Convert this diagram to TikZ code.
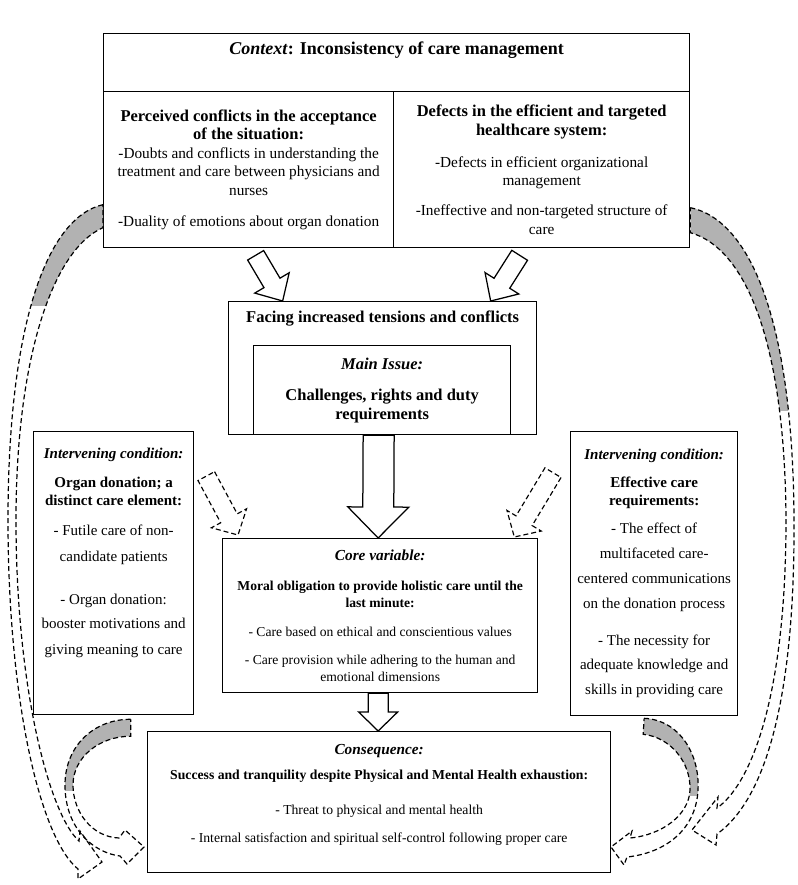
\documentclass[tikz,border=0pt]{standalone}
\usepackage{fontspec}
\setmainfont{Liberation Serif}
\usetikzlibrary{calc, positioning}

% hollow block arrow: [style]{from}{to}{half shaft}{half head}{head length}
\newcommand{\blockarrow}[6][]{%
  \coordinate (ba-h) at ($(#3)!#6!(#2)$);
  \draw[#1] ($(#2)!#4!90:(#3)$) -- ($(ba-h)!#4!-90:(#2)$)
    -- ($(ba-h)!#5!-90:(#2)$) -- (#3) -- ($(ba-h)!#5!90:(#2)$)
    -- ($(ba-h)!#4!90:(#2)$) -- ($(#2)!#4!-90:(#3)$) -- cycle;
}

% outlines of the curled arrows
\newcommand{\curlleft}{(l1a) .. controls (45,218) and (8,330) .. (8,520)
  .. controls (8,700) and (40,838) .. (78,869) -- (78,879) -- (l1tip)
  -- (80,831) -- (79,841) .. controls (50,815) and (16,690) .. (16,520)
  .. controls (16,360) and (52,250) .. (l1b) -- cycle}
\newcommand{\curlright}{(r1a) .. controls (750,220) and (793,320) .. (794,520)
  .. controls (795,700) and (765,800) .. (717,834) -- (716,845) -- (r1tip)
  -- (718,797) -- (717,808) .. controls (750,785) and (786,700) .. (786,520)
  .. controls (785,340) and (745,248) .. (r1b) -- cycle}
\newcommand{\curlleftint}{(l2a) .. controls (95,719) and (65,745) .. (65,785)
  .. controls (65,830) and (95,853) .. (120,856) -- (127,864) -- (l2tip)
  -- (125,830) -- (119,838) .. controls (92,837) and (73,812) .. (73,785)
  .. controls (73,757) and (100,736) .. (l2b) -- cycle}
\newcommand{\curlrightint}{(r2a) .. controls (680,720) and (700,755) .. (698,790)
  .. controls (696,830) and (665,853) .. (627,857) -- (624,865) -- (r2tip)
  -- (632,831) -- (630,838) .. controls (662,835) and (689,815) .. (690,790)
  .. controls (691,762) and (670,737) .. (r2b) -- cycle}

\newcommand{\bhead}[1]{{\fontsize{16.5}{18.5}\selectfont\bfseries #1}}

\begin{document}
\begin{tikzpicture}[
        x=1pt, y=-1pt,
        box/.style = {
            rectangle,
            draw=black,
            line width=1.3pt,
            inner sep=0pt,
            align=center
        },
        txt/.style = {
            inner sep=0pt,
            align=center
        },
        fat/.style = {
            draw=black,
            line width=1.25pt,
            fill=white
        },
        fatdash/.style = {
            draw=black,
            line width=1.15pt,
            dash pattern=on 5pt off 3pt
        },
        curl/.style = {
            draw=black,
            line width=1.2pt,
            dash pattern=on 5pt off 3pt
        },
        shade/.style = {fill=gray!60}
    ]
    \useasboundingbox (0,0) rectangle (797,885);

    % Nodes
    \node[box, minimum width=586pt, minimum height=58pt, anchor=north west] (ctx) at (103,33) {};
    \node[txt, below=9pt of ctx.north, font=\fontsize{18}{22}\selectfont\bfseries] (ctxtitle)
        {\textit{Context}: Inconsistency of care management};

    \node[box, minimum width=290pt, minimum height=156pt, anchor=north west,
          font=\fontsize{15.3}{18.5}\selectfont] (perc) at (103,91)
        {\bhead{Perceived conflicts in the acceptance}\\
         \bhead{of the situation:}\\
         -Doubts and conflicts in understanding the\\
         treatment and care between physicians and\\
         nurses\\[12.5pt]
         -Duality of emotions about organ donation};

    \node[box, minimum width=296pt, minimum height=156pt, anchor=north west,
          font=\fontsize{15.3}{18.5}\selectfont] (defect) at (393,91)
        {\bhead{Defects in the efficient and targeted}\\
         \bhead{healthcare system:}\\[13.5pt]
         -Defects in efficient organizational\\
         management\\[11.5pt]
         -Ineffective and non-targeted structure of\\
         care};

    \node[box, minimum width=308pt, minimum height=133pt, anchor=north west] (face) at (228,301) {};
    \node[txt, below=10pt of face.north, font=\fontsize{16.5}{19}\selectfont\bfseries] (facetitle)
        {Facing increased tensions and conflicts};

    \node[box, minimum width=257pt, minimum height=89pt, anchor=north west,
          font=\fontsize{16.5}{19}\selectfont\bfseries] (issue) at (253,345)
        {\textit{Main Issue:}\\[12pt]
         Challenges, rights and duty\\
         requirements};

    \node[box, minimum width=315pt, minimum height=154pt, anchor=north west,
          font=\fontsize{13.6}{17}\selectfont] (core) at (222,538)
        {{\fontsize{15.3}{17}\selectfont\bfseries\itshape Core variable:}\\[13pt]
         \textbf{Moral obligation to provide holistic care until the}\\
         \textbf{last minute:}\\[12pt]
         - Care based on ethical and conscientious values\\[11pt]
         - Care provision while adhering to the human and\\
         emotional dimensions};

    \node[box, minimum width=463pt, minimum height=141pt, anchor=north west] (cons) at (147,731) {};
    \node[txt, font=\fontsize{13.7}{16}\selectfont] (constext) at ([yshift=7pt]cons.center)
        {{\fontsize{15.3}{16}\selectfont\bfseries\itshape Consequence:}\\[9pt]
         \textbf{Success and tranquility despite Physical and Mental Health exhaustion:}\\[19pt]
         - Threat to physical and mental health\\[12pt]
         - Internal satisfaction and spiritual self-control following proper care};

    \node[box, minimum width=160pt, minimum height=283pt, anchor=north west] (leftint) at (33,431) {};
    \node[txt, font=\fontsize{15}{18.5}\selectfont] (lefttext) at ([yshift=20pt]leftint.center)
        {\textbf{\textit{Intervening condition:}}\\[10pt]
         \textbf{Organ donation; a}\\
         \textbf{distinct care element:}\\[11pt]
         - Futile care of non-\\[8pt]
         candidate patients\\[24pt]
         - Organ donation:\\[6pt]
         booster motivations and\\[7pt]
         giving meaning to care};

    \node[box, minimum width=167pt, minimum height=284pt, anchor=north west,
          font=\fontsize{15}{18.5}\selectfont] (rightint) at (570,431)
        {\textbf{\textit{Intervening condition:}}\\[9.5pt]
         \textbf{Effective care}\\
         \textbf{requirements:}\\[9.5pt]
         - The effect of\\[6.5pt]
         multifaceted care-\\[6.5pt]
         centered communications\\[6.5pt]
         on the donation process\\[18.5pt]
         - The necessity for\\[5.5pt]
         adequate knowledge and\\[6.5pt]
         skills in providing care};

    % Block arrows
    \coordinate (pa) at ([xshift=7pt, yshift=-7pt]perc.south);
    \coordinate (pb) at ([xshift=-100pt]face.north);
    \coordinate (qa) at ([xshift=-22pt, yshift=-7pt]defect.south);
    \coordinate (qb) at ([xshift=108pt]face.north);
    \coordinate (da) at ([xshift=-4pt]face.south);
    \coordinate (db) at ([xshift=-2pt]core.north);
    \coordinate (ca) at ([xshift=-2pt]core.south);
    \coordinate (cb) at ([xshift=-1pt]cons.north);
    \blockarrow[fat]{pa}{pb}{9.3pt}{20pt}{21pt}
    \blockarrow[fat]{qa}{qb}{9.3pt}{20pt}{21pt}
    \blockarrow[fat]{da}{db}{15.5pt}{30.5pt}{31pt}
    \blockarrow[fat]{ca}{cb}{10pt}{19.5pt}{19pt}

    % Dashed arrows from the intervening conditions
    \coordinate (la) at ([xshift=12pt, yshift=97pt]leftint.east);
    \coordinate (lb) at ([xshift=16pt, yshift=3pt]core.north west);
    \coordinate (ra) at ([xshift=-17pt, yshift=101pt]rightint.west);
    \coordinate (rb) at ([xshift=-24pt, yshift=1pt]core.north east);
    \blockarrow[fatdash]{la}{lb}{9.4pt}{20pt}{19pt}
    \blockarrow[fatdash]{ra}{rb}{9.4pt}{20pt}{19pt}

    % Curled arrows
    \coordinate (l1a) at ([yshift=-35pt]perc.west);
    \coordinate (l1b) at ([yshift=-58pt]perc.west);
    \coordinate (l1tip) at (102,862);
    \coordinate (r1a) at ([yshift=-38pt]defect.east);
    \coordinate (r1b) at ([yshift=-63pt]defect.east);
    \coordinate (r1tip) at (692,830);
    \coordinate (l2a) at ([xshift=17pt, yshift=-4pt]leftint.south);
    \coordinate (l2b) at ([xshift=17pt, yshift=-21pt]leftint.south);
    \coordinate (l2tip) at (144,847);
    \coordinate (r2a) at ([xshift=-10pt, yshift=-2pt]rightint.south);
    \coordinate (r2b) at ([xshift=-11pt, yshift=-18pt]rightint.south);
    \coordinate (r2tip) at (611,847);

    \begin{scope}
        \clip (0,0) rectangle (120,305);
        \fill[shade] \curlleft;
    \end{scope}
    \begin{scope}
        \clip (680,0) rectangle (797,410);
        \fill[shade] \curlright;
    \end{scope}
    \begin{scope}
        \clip (0,700) rectangle (140,790);
        \fill[shade] \curlleftint;
    \end{scope}
    \begin{scope}
        \clip (620,700) rectangle (720,795);
        \fill[shade] \curlrightint;
    \end{scope}
    \draw[curl] \curlleft;
    \draw[curl] \curlright;
    \draw[curl] \curlleftint;
    \draw[curl] \curlrightint;

\end{tikzpicture}
\end{document}
